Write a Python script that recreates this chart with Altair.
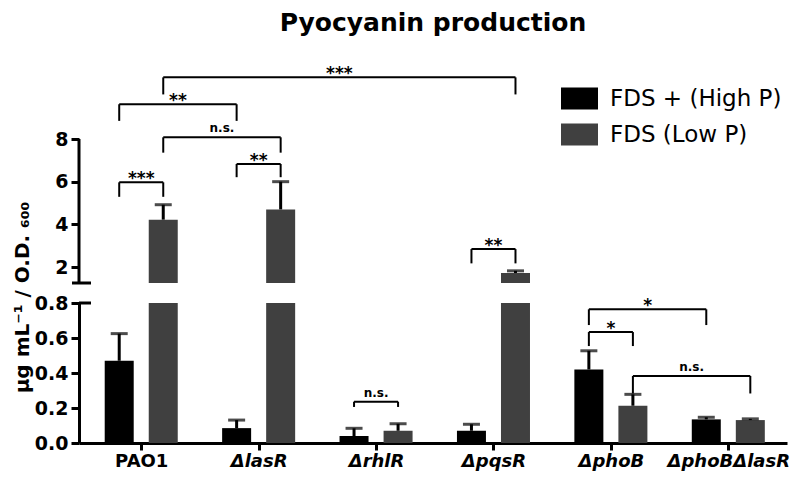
import json
import altair as alt
import pandas as pd

# ---------------- data ----------------
strains = ["PAO1", "ΔlasR", "ΔrhlR", "ΔpqsR", "ΔphoB", "ΔphoBΔlasR"]
conditions = ["FDS + (High P)", "FDS (Low P)"]
high_p_mean = [0.47, 0.085, 0.04, 0.07, 0.42, 0.135]
high_p_sd = [0.155, 0.046, 0.044, 0.037, 0.107, 0.012]
low_p_mean = [4.22, 4.70, 0.07, 1.72, 0.213, 0.131]
low_p_sd = [0.70, 1.30, 0.04, 0.10, 0.065, 0.007]

# significance brackets (H = high P bar, L = low P bar)
sig_strain_a = ["PAO1", "PAO1", "PAO1", "ΔlasR", "PAO1", "ΔpqsR", "ΔphoB", "ΔphoB", "ΔphoB", "ΔrhlR"]
sig_cond_a = ["L", "H", "L", "H", "H", "H", "H", "H", "L", "H"]
sig_strain_b = ["ΔpqsR", "ΔlasR", "ΔlasR", "ΔlasR", "PAO1", "ΔpqsR", "ΔphoBΔlasR", "ΔphoB", "ΔphoBΔlasR", "ΔrhlR"]
sig_cond_b = ["L", "H", "L", "L", "L", "L", "H", "L", "L", "L"]
sig_level = [10.89, 9.63, 8.08, 6.83, 5.97, 2.84, 0.764, 0.634, 0.383, 0.236]
sig_leg = [0.80, 0.78, 0.72, 0.62, 0.68, 0.67, 0.09, 0.08, 0.10, 0.03]
sig_label = ["***", "**", "n.s.", "**", "***", "**", "*", "*", "n.s.", "n.s."]
sig_panel = ["upper"] * 6 + ["lower"] * 4

# ---------------- tables ----------------
rows = []
for i, s in enumerate(strains):
    rows.append(dict(strain=s, idx=i, cond=conditions[0], val=high_p_mean[i], sd=high_p_sd[i]))
    rows.append(dict(strain=s, idx=i, cond=conditions[1], val=low_p_mean[i], sd=low_p_sd[i]))
bars_df = pd.DataFrame(rows)

br_df = pd.DataFrame(dict(
    idx_a=[strains.index(s) for s in sig_strain_a], cond_a=sig_cond_a,
    idx_b=[strains.index(s) for s in sig_strain_b], cond_b=sig_cond_b,
    level=sig_level, leg=sig_leg, label=sig_label, panel=sig_panel,
))

# ---------------- style ----------------
FONT = "DejaVu Sans"
GRAY = "#404040"
W = 708
XDOM = [-0.53, 5.50]
HALF = 0.1875

xscale = alt.Scale(domain=XDOM, nice=False, zero=False, padding=0)
color_scale = alt.Scale(domain=conditions, range=["#000000", GRAY])

xpos_expr = f"datum.idx + (datum.cond == '{conditions[0]}' ? -{HALF} : {HALF})"
bars_base = alt.Chart(bars_df).transform_calculate(xpos=xpos_expr, top="datum.val + datum.sd")

br_all = alt.Chart(br_df).transform_calculate(
    xa=f"datum.idx_a + (datum.cond_a == 'H' ? -{HALF} : {HALF})",
    xb=f"datum.idx_b + (datum.cond_b == 'H' ? -{HALF} : {HALF})",
)

label_expr = json.dumps(strains, ensure_ascii=False) + "[datum.value]"

up_yaxis = alt.Axis(values=[2, 4, 6, 8], domain=False, grid=False, tickSize=8, tickWidth=3,
                    tickColor="black", labelFont=FONT, labelFontSize=19, labelFontWeight="bold",
                    labelColor="black", labelPadding=3, title=None)
low_yaxis = alt.Axis(values=[0, 0.2, 0.4, 0.6, 0.8], format=".1f", grid=False, domainWidth=3,
                     domainColor="black", tickSize=8, tickWidth=3, tickColor="black",
                     labelFont=FONT, labelFontSize=19, labelFontWeight="bold", labelColor="black",
                     labelPadding=3, title="μg mL⁻¹ / O.D. ₆₀₀", titleFont=FONT, titleFontSize=20,
                     titleFontWeight="bold", titleColor="black", titleX=-47, titleY=-6,
                     titleBaseline="bottom", titleAngle=270)
low_xaxis = alt.Axis(values=[0, 1, 2, 3, 4, 5], labelExpr=label_expr, grid=False, domainWidth=3,
                     domainColor="black", tickSize=7, tickWidth=3, tickColor="black",
                     labelFont=FONT, labelFontSize=18, labelFontWeight="bold", labelColor="black",
                     labelFontStyle={"condition": {"test": "datum.value == 0", "value": "normal"},
                                     "value": "italic"},
                     labelPadding=2, labelFlush=False, title=None)


def panel(name, ydom, height, yaxis, xaxis, legend):
    ysc = alt.Scale(domain=ydom, nice=False, zero=False)

    def X(field):
        return alt.X(field, scale=xscale, axis=xaxis)

    def Y(field):
        return alt.Y(field, scale=ysc, axis=yaxis)

    def Yd(v):
        return alt.Y(datum=v, scale=ysc, axis=yaxis)

    layers = []
    if name == "upper":
        b = bars_base.transform_filter(f"datum.val > {ydom[0]}")
        layers.append(b.mark_bar(size=29).encode(
            x=X("xpos:Q"), y=Y("val:Q"), y2=alt.datum(ydom[0]),
            color=alt.Color("cond:N", scale=color_scale, legend=legend)))
        clip = False
    else:
        b = bars_base
        layers.append(b.mark_bar(size=29, clip=True).encode(
            x=X("xpos:Q"), y=Y("val:Q"),
            color=alt.Color("cond:N", scale=color_scale, legend=legend)))
        clip = True
    layers.append(b.mark_rule(strokeWidth=3, color="black", clip=clip).encode(
        x=X("xpos:Q"), y=Y("val:Q"), y2="top:Q"))
    layers.append(b.mark_tick(orient="horizontal", size=17, thickness=3, color="black", clip=clip).encode(
        x=X("xpos:Q"), y=Y("top:Q")))

    one = alt.Chart(pd.DataFrame({"k": [0]}))
    if name == "upper":
        layers.append(one.mark_rule(strokeWidth=3, color="black").encode(
            x=alt.value(0), y=Yd(ydom[0]), y2=alt.datum(8)))
        layers.append(one.mark_rule(strokeWidth=3, color="black").encode(
            x=alt.value(-7), x2=alt.value(12), y=Yd(ydom[0])))
    else:
        layers.append(one.mark_rule(strokeWidth=3, color="black").encode(
            x=alt.value(0), x2=alt.value(12), y=Yd(ydom[1])))

    br = br_all.transform_filter(f"datum.panel == '{name}'")
    layers.append(br.mark_rule(strokeWidth=2, color="black").encode(
        x=X("xa:Q"), x2="xb:Q", y=Y("level:Q")))
    layers.append(br.transform_calculate(low="datum.level - datum.leg")
                  .transform_fold(["xa", "xb"], as_=["side", "xl"])
                  .mark_rule(strokeWidth=2, color="black").encode(
                      x=X("xl:Q"), y=Y("level:Q"), y2="low:Q"))
    txt = br.transform_calculate(xm="(datum.xa + datum.xb) / 2")
    layers.append(txt.transform_filter("datum.label != 'n.s.'").mark_text(
        font=FONT, fontWeight="bold", fontSize=17, baseline="alphabetic", dy=2, color="black").encode(
        x=X("xm:Q"), y=Y("level:Q"), text="label:N"))
    layers.append(txt.transform_filter("datum.label == 'n.s.'").mark_text(
        font=FONT, fontWeight="bold", fontSize=12, baseline="alphabetic", dy=-5, color="black").encode(
        x=X("xm:Q"), y=Y("level:Q"), text="label:N"))
    return alt.layer(*layers).properties(width=W, height=height)


legend = alt.Legend(orient="none", legendX=482, legendY=18, title=None,
                    symbolType="M-1,-0.6H1V0.6H-1Z", symbolSize=1369, symbolStrokeWidth=0,
                    labelFont=FONT, labelFontSize=23, labelColor="black", labelOffset=12,
                    labelLimit=400, rowPadding=5, padding=0)

upper = panel("upper", [1.25, 11.61], 221, up_yaxis, None, legend).properties(
    title=alt.TitleParams("Pyocyanin production", font=FONT, fontSize=25, fontWeight="bold",
                          color="black", anchor="middle", frame="group", offset=26))
lower = panel("lower", [0, 0.8], 140, low_yaxis, low_xaxis, None)

chart = (
    alt.vconcat(upper, lower, spacing=20, bounds="flush")
    .resolve_legend(color="independent")
    .properties(padding={"left": 3, "top": 3, "right": 0, "bottom": 2})
    .configure_view(stroke=None)
)

chart.save("out.html", embed_options={"renderer": "svg", "actions": False})
